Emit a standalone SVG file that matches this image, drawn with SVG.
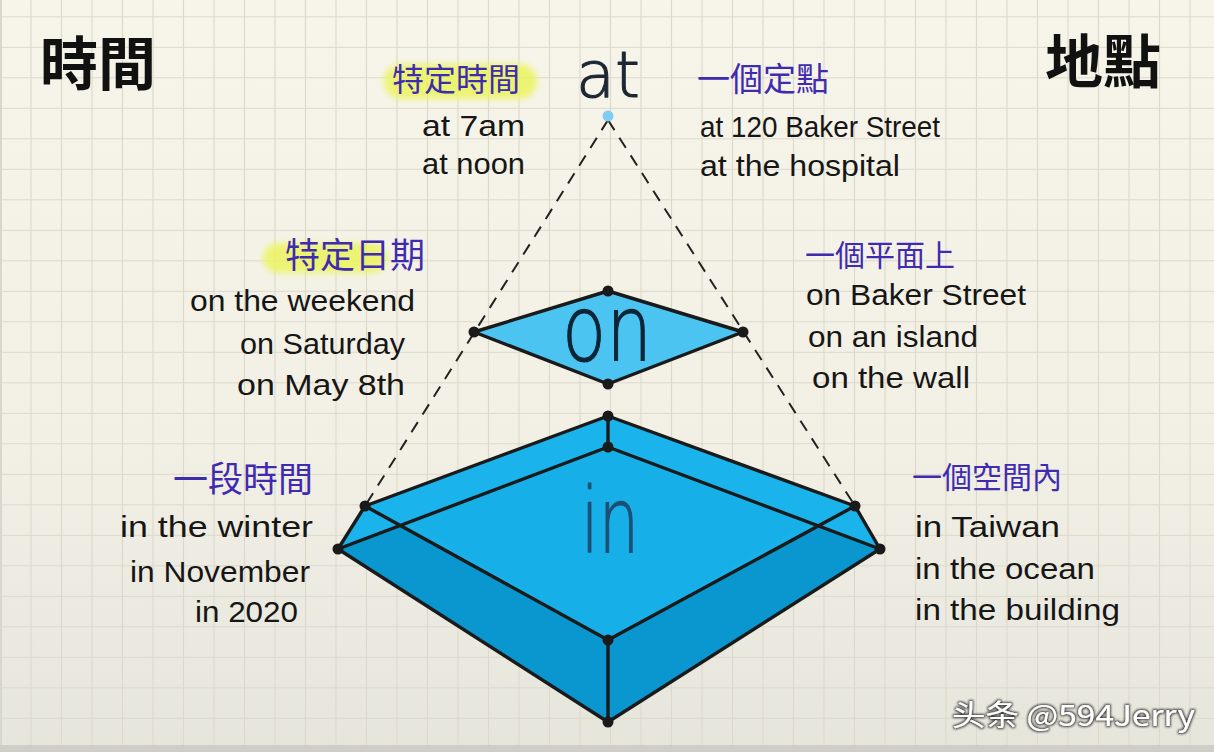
<svg xmlns="http://www.w3.org/2000/svg" width="1214" height="752" viewBox="0 0 1214 752">
<defs>
<linearGradient id="bg" x1="0" y1="0" x2="0" y2="1">
<stop offset="0" stop-color="#f7f5ea"/>
<stop offset="0.6" stop-color="#f2f0e5"/>
<stop offset="1" stop-color="#e6e5dc"/>
</linearGradient>
<pattern id="grid" x="-14.75" y="1.55" width="30.5" height="30.5" patternUnits="userSpaceOnUse">
<path d="M0 15.25H30.5M15.25 0V30.5" stroke="#dcd9ca" stroke-width="1.2" fill="none"/>
</pattern>
<filter id="soft" x="-20%" y="-50%" width="140%" height="200%">
<feGaussianBlur stdDeviation="3"/>
</filter>
<filter id="wm" x="-5%" y="-20%" width="110%" height="140%">
<feMorphology in="SourceAlpha" operator="dilate" radius="1.2" result="d"/>
<feGaussianBlur in="d" stdDeviation="1" result="b"/>
<feFlood flood-color="#1e1e1e" flood-opacity="0.85"/>
<feComposite in2="b" operator="in" result="s"/>
<feMerge><feMergeNode in="s"/><feMergeNode in="SourceGraphic"/></feMerge>
</filter>
<style>
.big{font-family:"DejaVu Sans ExtraLight","DejaVu Sans",sans-serif;font-weight:200;stroke-width:1.1;stroke-linejoin:round}
.en{font-family:"Liberation Sans",Arial,sans-serif;font-size:30px;fill:#161616}
.zh{font-family:"Noto Sans CJK TC","Noto Sans CJK SC",sans-serif;fill:#3f2bb0;font-weight:400}
.title{font-family:"Noto Sans CJK TC","Noto Sans CJK SC",sans-serif;fill:#111;font-weight:700}
.edge{stroke:#1a1a1a;stroke-width:3.4;stroke-linejoin:round;fill:none}
.dot{fill:#1a1a1a}
.dash{stroke:#222;stroke-width:2;stroke-dasharray:12 9;fill:none}
.hl{fill:#ebf45e;opacity:0.85}
</style>
</defs>

<rect width="1214" height="752" fill="url(#bg)"/>
<rect width="1214" height="752" fill="url(#grid)"/>
<rect x="0" y="0" width="2" height="752" fill="#d8d7cf"/>
<rect x="0" y="745" width="1214" height="7" fill="#cfcec6"/>

<g id="titles">
<text class="title" x="40" y="85" font-size="58">時間</text>
<text class="title" x="1045" y="83" font-size="58">地點</text>
</g>

<g id="connectors">
<line class="dash" x1="608" y1="120" x2="365" y2="506"/>
<line class="dash" x1="608" y1="120" x2="855" y2="506"/>
</g>

<g id="node-at">
<text class="big" x="608" y="97" font-size="64" text-anchor="middle" fill="#1c2733" stroke="#1c2733" textLength="64" lengthAdjust="spacingAndGlyphs">at</text>
<circle cx="608" cy="116" r="5.5" fill="#7fcdf3"/>
</g>

<g id="node-on">
<polygon points="608,291 743,332 608,384 474,332" fill="#4cc4f1"/>
<polygon class="edge" points="608,291 743,332 608,384 474,332"/>
<text class="big" x="607" y="360" font-size="90" text-anchor="middle" fill="#0e2435" stroke="#0e2435" textLength="90" lengthAdjust="spacingAndGlyphs">on</text>
<circle class="dot" cx="608" cy="291" r="5.5"/>
<circle class="dot" cx="743" cy="332" r="5.5"/>
<circle class="dot" cx="608" cy="384" r="5.5"/>
<circle class="dot" cx="474" cy="332" r="5.5"/>
</g>

<g id="node-in">
<polygon points="608,416 855,506 880,549 608,722 338,549 365,506" fill="#0a97cf"/>
<polygon points="608,416 855,506 608,640 365,506" fill="#19b1ea"/>
<polygon points="608,416 608,447 338,549 365,506" fill="#1ab3ec"/>
<polygon points="608,416 608,447 880,549 855,506" fill="#1ab3ec"/>
<polygon points="608,447 808,522 608,640 410,522" fill="#17afe8"/>
<text class="big" x="610" y="552" font-size="90" text-anchor="middle" fill="#1d4f74" stroke="#1d4f74" textLength="58" lengthAdjust="spacingAndGlyphs">in</text>
<path class="edge" d="M608 416L855 506L880 549L608 722L338 549L365 506Z"/>
<path class="edge" d="M365 506L608 640L855 506M608 416V447M338 549L608 447L880 549M608 640V722"/>
<circle class="dot" cx="608" cy="416" r="5.5"/>
<circle class="dot" cx="608" cy="447" r="5.5"/>
<circle class="dot" cx="365" cy="506" r="5.5"/>
<circle class="dot" cx="338" cy="549" r="5.5"/>
<circle class="dot" cx="855" cy="506" r="5.5"/>
<circle class="dot" cx="880" cy="549" r="5.5"/>
<circle class="dot" cx="608" cy="640" r="5.5"/>
<circle class="dot" cx="608" cy="722" r="5.5"/>
</g>

<g id="label-at-time">
<rect class="hl" x="384" y="64" width="153" height="35" rx="17" filter="url(#soft)"/>
<text class="zh" x="392" y="91" font-size="32">特定時間</text>
<text class="en" x="422" y="136" textLength="103" lengthAdjust="spacingAndGlyphs">at 7am</text>
<text class="en" x="422" y="174" textLength="103" lengthAdjust="spacingAndGlyphs">at noon</text>
</g>

<g id="label-at-place">
<text class="zh" x="697" y="91" font-size="33">一個定點</text>
<text class="en" x="700" y="137" textLength="240" lengthAdjust="spacingAndGlyphs">at 120 Baker Street</text>
<text class="en" x="700" y="176" textLength="200" lengthAdjust="spacingAndGlyphs">at the hospital</text>
</g>

<g id="label-on-time">
<rect class="hl" x="263" y="243" width="124" height="30" rx="15" filter="url(#soft)"/>
<text class="zh" x="285" y="268" font-size="35">特定日期</text>
<text class="en" x="190" y="311" textLength="225" lengthAdjust="spacingAndGlyphs">on the weekend</text>
<text class="en" x="240" y="354" textLength="165" lengthAdjust="spacingAndGlyphs">on Saturday</text>
<text class="en" x="237" y="395" textLength="168" lengthAdjust="spacingAndGlyphs">on May 8th</text>
</g>

<g id="label-on-place">
<text class="zh" x="805" y="266" font-size="30">一個平面上</text>
<text class="en" x="806" y="305" textLength="220" lengthAdjust="spacingAndGlyphs">on Baker Street</text>
<text class="en" x="808" y="347" textLength="170" lengthAdjust="spacingAndGlyphs">on an island</text>
<text class="en" x="812" y="388" textLength="158" lengthAdjust="spacingAndGlyphs">on the wall</text>
</g>

<g id="label-in-time">
<text class="zh" x="173" y="492" font-size="35">一段時間</text>
<text class="en" x="120" y="537" textLength="193" lengthAdjust="spacingAndGlyphs">in the winter</text>
<text class="en" x="130" y="582" textLength="180" lengthAdjust="spacingAndGlyphs">in November</text>
<text class="en" x="195" y="622" textLength="103" lengthAdjust="spacingAndGlyphs">in 2020</text>
</g>

<g id="label-in-place">
<text class="zh" x="912" y="488" font-size="30">一個空間內</text>
<text class="en" x="915" y="537" textLength="145" lengthAdjust="spacingAndGlyphs">in Taiwan</text>
<text class="en" x="915" y="579" textLength="180" lengthAdjust="spacingAndGlyphs">in the ocean</text>
<text class="en" x="915" y="620" textLength="205" lengthAdjust="spacingAndGlyphs">in the building</text>
</g>

<g id="watermark">
<text x="952" y="726" font-family="'Noto Sans CJK SC','Noto Sans CJK TC',sans-serif" font-size="29" fill="#ffffff" filter="url(#wm)" textLength="243" lengthAdjust="spacingAndGlyphs">头条 @594Jerry</text>
</g>
</svg>
